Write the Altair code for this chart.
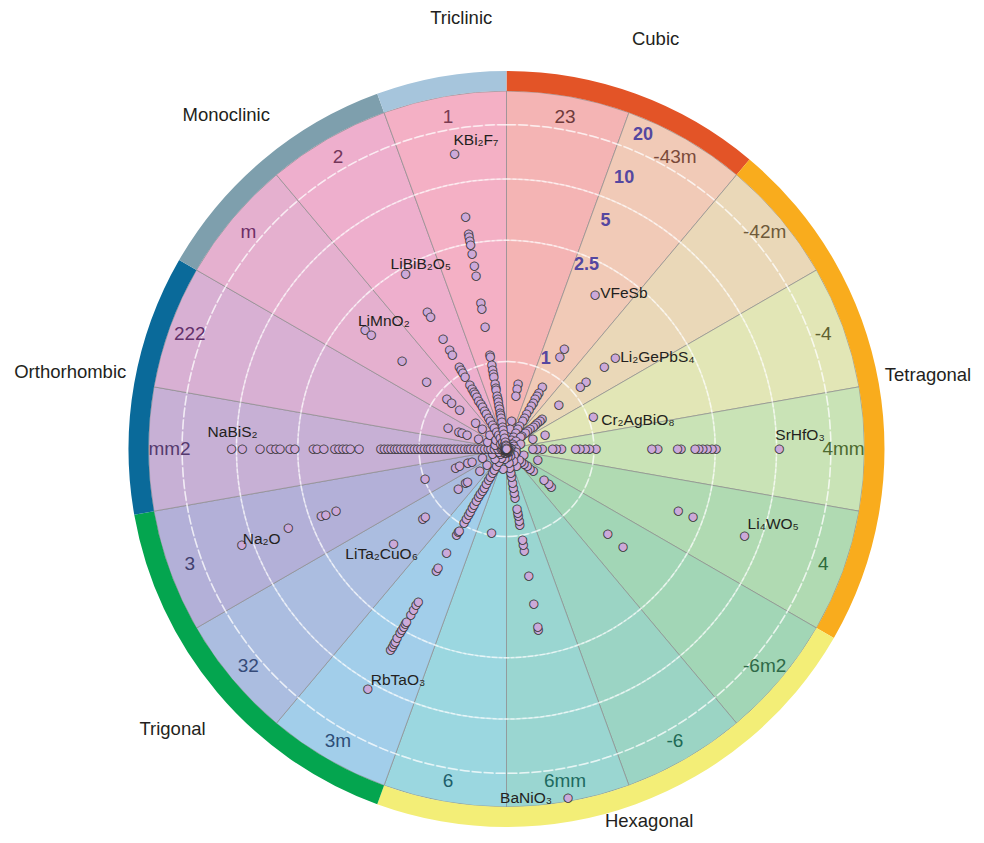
import math
import altair as alt
import pandas as pd

# ---------------- data ----------------
sectors = ["23", "-43m", "-42m", "-4", "4mm", "4", "-6m2", "-6", "6mm", "6",
           "3m", "32", "3", "mm2", "222", "m", "2", "1"]
sector_fill = ["#F4B4B4", "#F1CAB7", "#EAD8B8", "#E2E6B6", "#C9E3B6", "#B0DAB2",
               "#A2D6B6", "#9BD4C4", "#9AD6D1", "#9BD7E0", "#A2CEEA", "#ABBDE0",
               "#B3B0D8", "#C7B0D5", "#D8B0D3", "#E5B0CF", "#EEAFCD", "#F4B0C5"]
sector_text_color = ["#6E3A3A", "#7A4A3A", "#6E5A3A", "#5E6030", "#4D6A2E", "#2E6A3A",
                     "#2E6A48", "#1E6A55", "#1E6A60", "#1E5E6A", "#2E4E78", "#354A78",
                     "#42406E", "#553A6E", "#63306A", "#6E2E66", "#73365A", "#7A3B52"]

systems = ["Cubic", "Tetragonal", "Hexagonal", "Trigonal", "Orthorhombic", "Monoclinic", "Triclinic"]
system_sector_count = [2, 4, 4, 3, 2, 2, 1]
system_color = ["#E35427", "#F9AC1D", "#F3EE77", "#04A54F", "#0A6A9A", "#7E9FAD", "#A6C5DC"]
system_label_angle = [20, 80, 159, 230, 280, 320, 354]

grid_values = [1, 2.5, 5, 10, 20]
grid_labels = ["1", "2.5", "5", "10", "20"]
axis_label_angle = 23.5

# point values per point group (radial value)
pts = {
    "23": [0.76, 0.70, 0.61, 0.33, 0.23, 0.14, 0.07, 0.05, 0.03, 0.015, 0.005],
    "-43m": [2.32, 1.41, 1.28, 0.82, 0.74, 0.70, 0.655, 0.61, 0.565, 0.515, 0.46, 0.41,
             0.37, 0.30, 0.26, 0.21, 0.16, 0.115, 0.07, 0.05, 0.03, 0.015, 0.005],
    "-42m": [1.80, 1.59, 1.24, 1.13, 0.78, 0.53, 0.50, 0.46, 0.43, 0.40, 0.35, 0.315,
             0.28, 0.23, 0.21, 0.14, 0.09, 0.05, 0.03, 0.015, 0.005],
    "-4": [1.07, 0.47, 0.32, 0.17, 0.09, 0.05, 0.03, 0.015, 0.005],
    "4mm": [8.80, 3.54, 3.33, 3.08, 2.86, 2.65, 2.485, 2.28, 2.23, 1.94, 1.85, 1.03, 0.95,
            0.90, 0.84, 0.79, 0.63, 0.57, 0.525, 0.41, 0.35, 0.30, 0.11, 0.06, 0.03, 0.015,
            0.005],
    "4": [6.70, 2.97, 2.40, 0.38, 0.21, 0.115, 0.05, 0.03, 0.015, 0.005],
    "-6m2": [1.95, 1.66, 0.67, 0.63, 0.56, 0.40, 0.35, 0.31, 0.26, 0.225, 0.19, 0.115,
             0.05, 0.03, 0.015, 0.005],
    "-6": [0.23, 0.16, 0.09, 0.05, 0.03, 0.015, 0.005],
    "6mm": [28.65, 2.41, 2.37, 2.03, 1.61, 1.23, 1.14, 1.07, 0.88, 0.84, 0.78, 0.74, 0.70,
            0.57, 0.51, 0.45, 0.39, 0.33, 0.28, 0.22, 0.16, 0.09, 0.05, 0.03, 0.015, 0.005],
    "6": [0.98, 0.23, 0.115, 0.05, 0.03, 0.015, 0.005],
    "3m": [9.30, 4.70, 4.51, 4.35, 4.21, 4.02, 3.72, 3.53, 3.33, 3.17, 3.04, 2.60, 2.45,
           2.37, 2.31, 1.78, 1.73, 1.48, 1.18, 1.13, 1.10, 0.97, 0.92, 0.87, 0.83, 0.78,
           0.74, 0.69, 0.64, 0.60, 0.55, 0.51, 0.46, 0.41, 0.37, 0.32, 0.28, 0.23, 0.17,
           0.115, 0.05, 0.03, 0.015, 0.005],
    "32": [1.88, 1.32, 1.27, 0.72, 0.61, 0.58, 0.40, 0.29, 0.17, 0.09, 0.05, 0.03, 0.015,
           0.005],
    "3": [9.76, 4.73, 2.89, 2.65, 2.38, 0.99, 0.62, 0.57, 0.47, 0.42, 0.29, 0.17, 0.09,
          0.05, 0.03, 0.015, 0.005],
    "mm2": [9.02, 7.86, 5.95, 4.90, 4.64, 4.42, 3.91, 3.66, 2.69, 2.50, 2.40, 2.24, 2.18,
            2.12, 2.07, 2.01, 1.88, 1.56, 1.51, 1.46, 1.41, 1.36, 1.32, 1.27, 1.22, 1.17,
            1.12, 1.07, 1.02, 0.98, 0.94, 0.90, 0.87, 0.83, 0.79, 0.75, 0.71, 0.67, 0.64,
            0.60, 0.56, 0.52, 0.48, 0.44, 0.41, 0.37, 0.33, 0.29, 0.25, 0.21, 0.18, 0.14,
            0.10, 0.06, 0.03, 0.015, 0.005],
    "222": [0.71, 0.58, 0.54, 0.48, 0.34, 0.23, 0.14, 0.05, 0.03, 0.015, 0.005],
    "m": [2.43, 2.31, 1.72, 1.25, 0.89, 0.82, 0.70, 0.46, 0.36, 0.25, 0.16, 0.09, 0.05,
          0.03, 0.015, 0.005],
    "2": [3.14, 2.04, 1.95, 1.58, 1.39, 1.31, 1.10, 1.05, 1.00, 0.95, 0.84, 0.79, 0.75,
          0.72, 0.68, 0.64, 0.59, 0.55, 0.50, 0.46, 0.41, 0.37, 0.32, 0.28, 0.23, 0.18,
          0.14, 0.09, 0.05, 0.03, 0.015, 0.005],
    "1": [13.30, 4.89, 4.01, 3.83, 3.62, 3.42, 2.94, 2.45, 2.29, 1.90, 1.80, 1.54, 1.12,
          1.09, 0.97, 0.92, 0.87, 0.83, 0.76, 0.71, 0.68, 0.62, 0.58, 0.54, 0.50, 0.46,
          0.42, 0.39, 0.36, 0.31, 0.26, 0.22, 0.17, 0.13, 0.08, 0.05, 0.03, 0.015, 0.005],
}

compounds = ["KBi₂F₇", "VFeSb", "Li₂GePbS₄", "Cr₂AgBiO₈", "SrHfO₃", "Li₄WO₅", "BaNiO₃",
             "RbTaO₃", "LiTa₂CuO₆", "Na₂O", "NaBiS₂", "LiMnO₂", "LiBiB₂O₅"]
compound_sector = ["1", "-43m", "-42m", "-4", "4mm", "4", "6mm", "3m", "32", "3", "mm2", "m", "2"]
compound_value = [13.30, 2.32, 1.80, 1.07, 8.80, 6.70, 28.65, 9.30, 1.88, 9.76, 9.02, 2.43, 3.14]

# ---------------- styling / layout ----------------
CX, CY = 498.5, 441.0
R_WEDGE, R_RING = 358, 378
FONT = "Liberation Sans"
label_style = {  # dx, dy, align
    "KBi₂F₇": (-1, -14, "left"), "VFeSb": (5, -2, "left"), "Li₂GePbS₄": (5, -1, "left"),
    "Cr₂AgBiO₈": (8, 3, "left"), "SrHfO₃": (-4, -14, "left"), "Li₄WO₅": (3, -12, "left"),
    "BaNiO₃": (-16, 0, "right"), "RbTaO₃": (3, -9, "left"), "LiTa₂CuO₆": (-12, 10, "center"),
    "Na₂O": (1, -6, "left"), "NaBiS₂": (-24, -17, "left"), "LiMnO₂": (-7, -9, "left"),
    "LiBiB₂O₅": (-15, -10, "left"),
}
sys_radius = {"Hexagonal": 398, "Orthorhombic": 443, "Triclinic": 433, "Tetragonal": 428}

theta_scale = alt.Scale(domain=[0, 360], range=[0, 2 * math.pi])
r_scale = alt.Scale(type="linear", domain=[0, 1, 2.5, 5, 10, 20, 30],
                    range=[0, 87.5, 189.5, 237.5, 284, 331.5, 358])

# ---------------- tables ----------------
sec_df = pd.DataFrame({"sector": sectors, "fill": sector_fill, "tcolor": sector_text_color})
sec_df["start"] = [20 * i for i in range(len(sectors))]
sec_df["end"] = sec_df["start"] + 20
sec_df["mid"] = sec_df["start"] + 10
sec_mid = dict(zip(sec_df["sector"], sec_df["mid"]))

starts, s = [], 0
for c in system_sector_count:
    starts.append(s * 20)
    s += c
sys_df = pd.DataFrame({"system": systems, "color": system_color, "start": starts,
                       "angle": system_label_angle})
sys_df["end"] = sys_df["start"] + [c * 20 for c in system_sector_count]

grid_df = pd.DataFrame({"v": grid_values, "lab": grid_labels,
                        "ang": [axis_label_angle] * len(grid_values)})

rows = []
for sec in sectors:
    for v in pts[sec]:
        rows.append({"ang": sec_mid[sec], "v": v})
pts_df = pd.DataFrame(rows)

cmp_df = pd.DataFrame({"name": compounds, "v": compound_value,
                       "ang": [sec_mid[s_] for s_ in compound_sector]})

# ---------------- layers ----------------
wedges = alt.Chart(sec_df).mark_arc(x=CX, y=CY, stroke="#8c8c8c", strokeWidth=0.7).encode(
    theta=alt.Theta("start:Q", scale=theta_scale),
    theta2="end:Q",
    radius=alt.value(R_WEDGE),
    fill=alt.Fill("fill:N", scale=None),
)

grid = alt.Chart(grid_df).mark_arc(
    x=CX, y=CY, theta=0, theta2=2 * math.pi, fillOpacity=0,
    stroke="white", strokeWidth=1.5, strokeOpacity=0.5, strokeDash=[10, 2]
).encode(radius=alt.Radius("v:Q", scale=r_scale))

ring = alt.Chart(sys_df).mark_arc(x=CX, y=CY).encode(
    theta=alt.Theta("start:Q", scale=theta_scale),
    theta2="end:Q",
    radius=alt.value(R_RING),
    radius2=alt.value(R_WEDGE),
    fill=alt.Fill("color:N", scale=None),
)

sector_labels = alt.Chart(sec_df).mark_text(
    x=CX, y=CY, radius=337, font=FONT, fontSize=19, align="center", baseline="middle"
).encode(
    theta=alt.Theta("mid:Q", scale=theta_scale, stack=False),
    text="sector:N",
    color=alt.Color("tcolor:N", scale=None),
)

axis_labels = alt.Chart(grid_df).mark_text(
    x=CX, y=CY, radiusOffset=11, font=FONT, fontSize=18, fontWeight="bold",
    color="#5547A0", align="center", baseline="middle"
).encode(
    theta=alt.Theta("ang:Q", scale=theta_scale, stack=False),
    radius=alt.Radius("v:Q", scale=r_scale),
    text="lab:N",
)

points = alt.Chart(pts_df).mark_text(
    x=CX, y=CY, text="●", font="DejaVu Sans", fontSize=11, fill="#CCA9D9",
    stroke="#333333", strokeWidth=0.8, align="center", baseline="middle"
).encode(
    theta=alt.Theta("ang:Q", scale=theta_scale, stack=False),
    radius=alt.Radius("v:Q", scale=r_scale),
)

layers = [wedges, grid, ring, sector_labels, axis_labels, points]

for name in compounds:
    dx, dy, al = label_style[name]
    layers.append(
        alt.Chart(cmp_df).transform_filter(alt.datum.name == name).mark_text(
            x=CX, y=CY, dx=dx, dy=dy, align=al, baseline="middle",
            font=FONT, fontSize=15.5, color="#231F20"
        ).encode(
            theta=alt.Theta("ang:Q", scale=theta_scale, stack=False),
            radius=alt.Radius("v:Q", scale=r_scale),
            text="name:N",
        )
    )

for name in systems:
    layers.append(
        alt.Chart(sys_df).transform_filter(alt.datum.system == name).mark_text(
            x=CX, y=CY, radius=sys_radius.get(name, 436), align="center",
            baseline="middle", font=FONT, fontSize=18.5, color="#231F20"
        ).encode(
            theta=alt.Theta("angle:Q", scale=theta_scale, stack=False),
            text="system:N",
        )
    )

chart = alt.layer(*layers).properties(
    width=968, height=827, padding=0,
    autosize=alt.AutoSizeParams(type="none"),
).configure_view(stroke="transparent")

chart.save("out.html", embed_options={"renderer": "svg", "actions": False})
